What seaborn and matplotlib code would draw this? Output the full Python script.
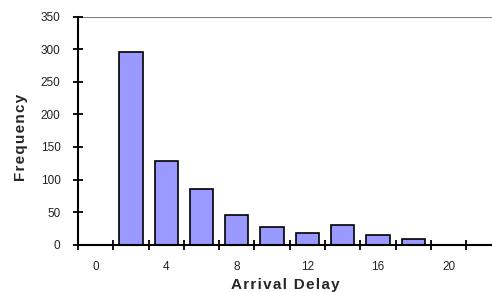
import matplotlib
matplotlib.use("Agg")
import matplotlib.pyplot as plt
import numpy as np
import pandas as pd
import seaborn as sns

# ─── Data ─────────────────────────────────────────────────────────
delay_bins = [0, 2, 4, 6, 8, 10, 12, 14, 16, 18, 20, 22]
frequency  = [0, 296, 128, 85, 45, 27, 18, 30, 15, 8, 0, 0]
y_ticks    = [0, 50, 100, 150, 200, 250, 300, 350]

df = pd.DataFrame({"delay": [str(d) for d in delay_bins], "freq": frequency})

sns.set_theme(style="white")
plt.rcParams["font.family"] = ["Liberation Sans", "DejaVu Sans"]

fig = plt.figure(figsize=(4.92, 2.92), dpi=100)
ax = fig.add_axes([0.1585, 0.162, 0.8415, 0.781])

sns.barplot(data=df, x="delay", y="freq", color="#9999FF", saturation=1,
            edgecolor="black", linewidth=1.2, width=0.66, ax=ax)

ax.set_ylim(0, 350)
ax.set_xlim(-0.5, 11.23)
ax.set_yticks(y_ticks)
ax.set_yticklabels([str(v) for v in y_ticks], fontsize=8.5, color="#222222")

# category labels every other bin, ticks between categories
ax.set_xticks(range(0, len(delay_bins), 2))
ax.set_xticklabels([str(d) for d in delay_bins[::2]], fontsize=8.5, color="#222222")
ax.set_xticks(np.arange(-0.5, len(delay_bins) - 0.5, 1), minor=True)
ax.tick_params(axis="x", which="major", length=0, pad=12)
ax.tick_params(axis="x", which="minor", length=7, width=1.3, direction="inout",
               color="black", bottom=True)
ax.tick_params(axis="y", which="major", length=7, width=1.3, direction="inout",
               color="black", left=True, pad=9)

ax.axhline(350, color="#808080", linewidth=1.5, zorder=0)

for s in ["top", "right"]:
    ax.spines[s].set_visible(False)
for s in ["left", "bottom"]:
    ax.spines[s].set_color("black")
    ax.spines[s].set_linewidth(1.5)

hair = "\u200a"
ax.set_xlabel(hair.join("Arrival Delay"), fontsize=11, fontweight="bold", labelpad=3)
ax.set_ylabel(hair.join("Frequency"), fontsize=11, fontweight="bold", labelpad=9)
ax.yaxis.label.set_y(0.47)

fig.savefig("out.png", dpi=100)
